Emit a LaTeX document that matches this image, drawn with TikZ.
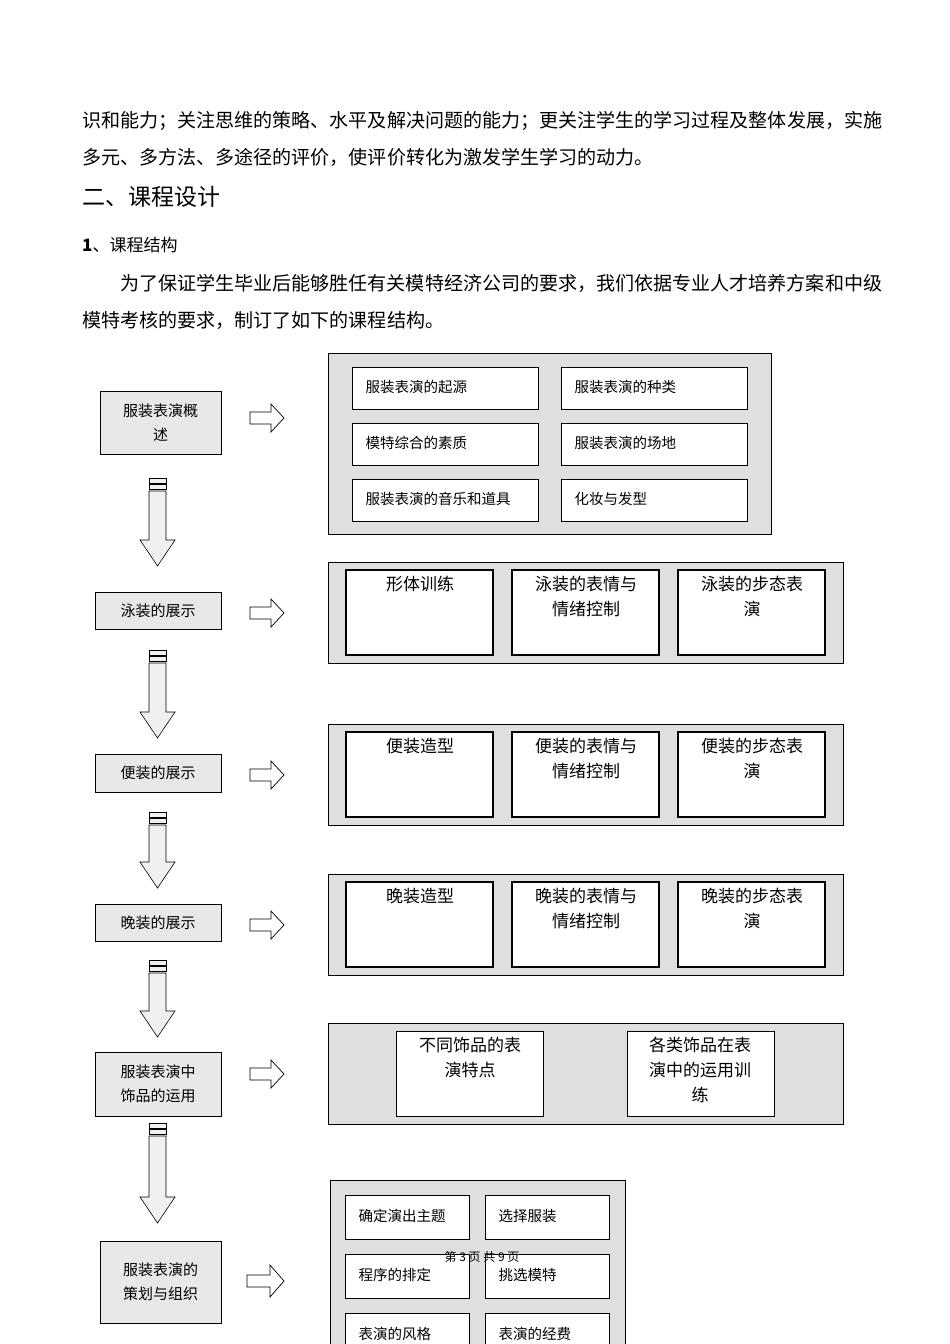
\documentclass[tikz,border=0pt]{standalone}
\usepackage{fontspec}
\setmainfont{Liberation Serif}
\newfontfamily\cjk{Noto Sans CJK SC}
\begin{document}
\begin{tikzpicture}[x=1pt,y=-1pt,
  lbox/.style={draw,fill=gray!18,line width=0.6pt,align=center,font=\cjk\fontsize{15}{24}\selectfont},
  panel/.style={draw,fill=gray!25,line width=0.6pt},
  ibox/.style={draw,fill=white,line width=0.8pt},
  itext/.style={font=\cjk\fontsize{14.5}{20}\selectfont,anchor=west},
  ttext/.style={font=\cjk\fontsize{17}{25}\selectfont,align=center,anchor=north},
  body/.style={font=\cjk\fontsize{19.05}{22}\selectfont,anchor=west,inner sep=0pt},
  arr/.style={draw,fill=white,line width=0.7pt},
  darr/.style={draw,fill=gray!12,line width=0.6pt}]
\useasboundingbox (0,0) rectangle (950,1344);
\fill[white] (0,0) rectangle (950,1344);
% body text
\node[body] (t1) at (82,121) {识和能力；关注思维的策略、水平及解决问题的能力；更关注学生的学习过程及整体发展，实施};
\node[body] (t2) at (82,157) {多元、多方法、多途径的评价，使评价转化为激发学生学习的动力。};
\node[body,font=\cjk\fontsize{23}{26}\selectfont] (t3) at (82,197) {二、课程设计};
\node[body,font=\cjk\fontsize{17}{20}\selectfont] (t4) at (82,245) {\textbf{1}、课程结构};
\node[body] (t5) at (120,283) {为了保证学生毕业后能够胜任有关模特经济公司的要求，我们依据专业人才培养方案和中级};
\node[body] (t6) at (82,320) {模特考核的要求，制订了如下的课程结构。};
% left boxes
\node[lbox,minimum width=121,minimum height=63] (L1) at (160.5,422.5) {服装表演概\\述};
\node[lbox,minimum width=126,minimum height=37] (L2) at (158,610.5) {泳装的展示};
\node[lbox,minimum width=126,minimum height=38] (L3) at (158,773) {便装的展示};
\node[lbox,minimum width=126,minimum height=37] (L4) at (158,922.5) {晚装的展示};
\node[lbox,minimum width=126,minimum height=64] (L5) at (158,1084) {服装表演中\\饰品的运用};
\node[lbox,minimum width=121,minimum height=82] (L6) at (160.5,1282) {服装表演的\\策划与组织};
% right arrows
\foreach \yy in {418,613,775,925,1074}{
  \draw[arr] (250,\yy-6) -- (271,\yy-6) -- (271,\yy-14) -- (284,\yy) -- (271,\yy+14) -- (271,\yy+6) -- (250,\yy+6) -- cycle;}
\draw[arr] (247,1275) -- (270,1275) -- (270,1265) -- (284,1281) -- (270,1297) -- (270,1287) -- (247,1287) -- cycle;
% down arrows
\foreach \a/\b in {478/566,650/738,812/888,960/1037,1123/1223}{
  \draw[darr] (149,\a) rectangle (166,\a+5);
  \draw[darr] (149,\a+6) rectangle (166,\a+11);
  \draw[darr] (149,\a+13) -- (166,\a+13) -- (166,\b-26) -- (175,\b-26) -- (157.5,\b) -- (140,\b-26) -- (149,\b-26) -- cycle;}
% panel 1
\draw[panel] (328,353) rectangle (771,534);
\foreach \yt/\ya/\tb in {367/服装表演的起源/服装表演的种类,423/模特综合的素质/服装表演的场地,479/服装表演的音乐和道具/化妆与发型}{
  \draw[ibox] (352,\yt) rectangle (538,\yt+42);
  \draw[ibox] (561,\yt) rectangle (747,\yt+42);
  \node[itext] at (362,\yt+20) {\ya};
  \node[itext] at (571,\yt+20) {\tb};}
% panels 2-4
\foreach \py/\na/\nb/\nc in {562/形体训练/泳装的表情与\\情绪控制/泳装的步态表\\演,724/便装造型/便装的表情与\\情绪控制/便装的步态表\\演,874/晚装造型/晚装的表情与\\情绪控制/晚装的步态表\\演}{
  \draw[panel] (328,\py) rectangle (843,\py+101);
  \draw[ibox,line width=1.1pt] (346,\py+8) rectangle (493,\py+93);
  \draw[ibox,line width=1.1pt] (512,\py+8) rectangle (659,\py+93);
  \draw[ibox,line width=1.1pt] (678,\py+8) rectangle (825,\py+93);
  \node[ttext] at (420,\py+11) {\na};
  \node[ttext] at (586,\py+11) {\nb};
  \node[ttext] at (752,\py+11) {\nc};}
% panel 5
\draw[panel] (328,1023) rectangle (843,1124);
\draw[ibox] (396,1031) rectangle (543,1116);
\draw[ibox] (627,1031) rectangle (774,1116);
\node[ttext] at (470,1034) {不同饰品的表\\演特点};
\node[ttext] at (700,1034) {各类饰品在表\\演中的运用训\\练};
% panel 6
\draw[panel] (330,1180) rectangle (625,1360);
\foreach \yt/\ya/\tb in {1195/确定演出主题/选择服装,1254/程序的排定/挑选模特,1313/表演的风格/表演的经费}{
  \draw[ibox] (345,\yt) rectangle (469,\yt+44);
  \draw[ibox] (485,\yt) rectangle (609,\yt+44);
  \node[itext] at (355,\yt+21) {\ya};
  \node[itext] at (495,\yt+21) {\tb};}
\node[font=\cjk\fontsize{12}{14}\selectfont] (ft) at (482,1257) {第 3 页 共 9 页};
\end{tikzpicture}
\end{document}
